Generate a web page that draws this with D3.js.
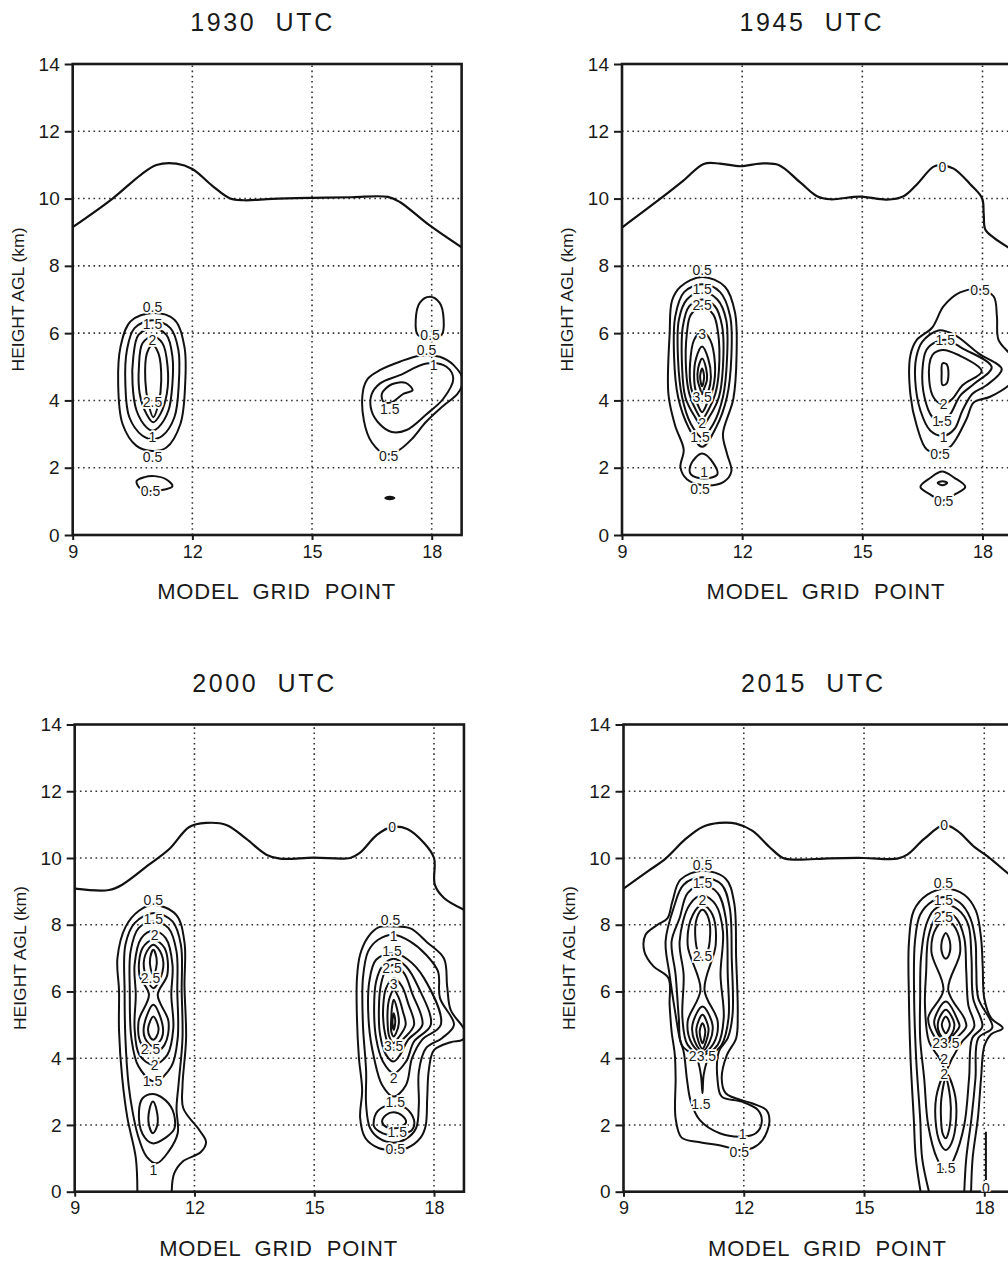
<!DOCTYPE html>
<html>
<head>
<meta charset="utf-8">
<script src="https://cdn.jsdelivr.net/npm/d3@7"></script>
<style>
  body { margin: 0; background: #fff; }
  svg { display: block; }
  text { font-family: "Liberation Sans", Arial, Helvetica, sans-serif; fill: #1a1a1a; }
</style>
</head>
<body>
<svg id="chart" width="1008" height="1264"></svg>
<script>
// axis values
const xTicks = [9, 12, 15, 18];
const yTicks = [0, 2, 4, 6, 8, 10, 12, 14];
const xMax = 18.75;
const titles = ["1930  UTC", "1945  UTC", "2000  UTC", "2015  UTC"];

// zero contour (upper boundary) per time, [grid point, km]
const zero1930 = [[9,9.15],[10,10],[10.7,10.7],[11.1,11.0],[11.6,11.04],[12,10.88],[12.5,10.38],[12.95,10.0],[13.3,9.95],[14,9.99],[15,10.02],[16,10.04],[16.9,10.05],[17.2,9.9],[17.95,9.2],[18.75,8.55]];
const zero1945 = [[9,9.14],[10.04,10.07],[10.54,10.54],[11.04,11.03],[11.45,11.04],[11.96,10.96],[12.45,11.04],[12.91,11.0],[13.45,10.48],[13.87,10.07],[14.2,9.98],[14.95,10.06],[15.61,9.97],[16.03,10.07],[16.36,10.42],[16.78,10.95],[17.0,10.98],[17.28,10.89],[17.7,10.42],[17.99,10.01],[18.03,9.54],[18.07,9.08],[18.28,8.84],[18.75,8.47]];
const zero2000 = [[9,9.08],[9.86,9.04],[10.19,9.2],[10.86,9.8],[11.37,10.27],[11.87,10.93],[12.29,11.05],[12.8,10.99],[13.3,10.57],[13.8,10.1],[14.14,9.98],[14.98,10.01],[15.9,10.0],[16.15,10.16],[16.57,10.69],[16.95,10.93],[17.33,10.87],[17.75,10.45],[18.0,10.0],[18.02,9.2],[18.25,8.8],[18.75,8.45]];
const zero2015 = [[9,9.08],[9.63,9.62],[10.05,9.98],[10.55,10.57],[10.97,10.93],[11.39,11.05],[11.81,11.03],[12.22,10.81],[12.64,10.33],[12.98,10.0],[13.31,9.95],[14.15,9.99],[14.99,10.0],[15.83,9.98],[16.08,10.1],[16.5,10.57],[17.0,10.99],[17.33,10.81],[17.75,10.33],[18.09,10.04],[18.63,9.5],[18.75,9.4]];

// contour rings
const rings1930 = [
  {v:0.5, pts:[[11.0,6.6],[11.55,6.4],[11.8,5.6],[11.82,4.5],[11.7,3.3],[11.35,2.6],[11.0,2.5],[10.6,2.65],[10.25,3.3],[10.14,4.5],[10.2,5.6],[10.45,6.35]]},
  {v:1, pts:[[11.0,6.38],[11.45,6.15],[11.65,5.5],[11.66,4.5],[11.55,3.5],[11.25,2.95],[11.0,2.85],[10.75,2.95],[10.42,3.5],[10.32,4.5],[10.36,5.5],[10.55,6.15]]},
  {v:1.5, pts:[[11.0,6.15],[11.35,5.95],[11.5,5.3],[11.5,4.5],[11.4,3.7],[11.15,3.2],[11.0,3.1],[10.85,3.2],[10.6,3.7],[10.5,4.5],[10.52,5.3],[10.65,5.95]]},
  {v:2, pts:[[11.0,5.9],[11.25,5.7],[11.38,5.0],[11.36,4.2],[11.2,3.6],[11.02,3.35],[10.85,3.6],[10.68,4.2],[10.66,5.0],[10.75,5.7]]},
  {v:2.5, pts:[[11.0,5.65],[11.15,5.4],[11.22,4.6],[11.15,3.9],[11.02,3.5],[10.9,3.9],[10.82,4.6],[10.86,5.4]]},
  {v:0.5, pts:[[10.6,1.6],[10.8,1.72],[11.05,1.75],[11.35,1.65],[11.5,1.45],[11.3,1.35],[11.0,1.3],[10.7,1.38]]},
  {v:0.5, pts:[[17.95,7.08],[18.2,6.9],[18.3,6.4],[18.25,5.95],[17.95,5.88],[17.65,5.95],[17.6,6.4],[17.7,6.9]]},
  {v:0.5, pts:[[16.28,4.3],[16.4,4.65],[16.7,4.9],[17.2,5.15],[17.7,5.33],[18.2,5.3],[18.55,5.05],[18.78,4.6],[18.65,4.2],[18.3,3.85],[17.85,3.35],[17.5,2.85],[17.15,2.5],[16.85,2.4],[16.5,2.75],[16.3,3.4]]},
  {v:1, pts:[[16.49,4.17],[16.7,4.5],[17.2,4.75],[17.87,5.1],[18.37,5.0],[18.54,4.64],[18.29,4.05],[17.87,3.59],[17.37,3.12],[17.0,3.06],[16.7,3.29],[16.49,3.7]]},
  {v:1.5, pts:[[16.75,4.2],[17.0,4.48],[17.35,4.52],[17.52,4.3],[17.3,4.2],[17.0,3.95],[16.8,3.95]]}
];
const rings1945 = [
  {v:0.5, pts:[[11.0,7.67],[11.57,7.38],[11.82,6.62],[11.86,5.34],[11.78,4.05],[11.52,3.0],[11.62,2.42],[11.73,1.89],[11.54,1.58],[11.04,1.48],[10.62,1.66],[10.46,2.01],[10.54,2.54],[10.33,3.24],[10.16,4.17],[10.19,6.0],[10.25,6.97],[10.46,7.38]]},
  {v:1, pts:[[11.0,7.45],[11.45,7.22],[11.7,6.5],[11.73,5.3],[11.62,4.1],[11.35,3.2],[11.0,2.62],[10.66,3.2],[10.4,4.1],[10.3,5.3],[10.33,6.5],[10.55,7.22]]},
  {v:1, pts:[[11.0,2.42],[11.3,2.1],[11.38,1.8],[11.05,1.68],[10.72,1.8],[10.72,2.1]]},
  {v:1.5, pts:[[11.0,7.22],[11.38,7.0],[11.6,6.4],[11.62,5.2],[11.52,4.1],[11.28,3.3],[11.0,2.9],[10.72,3.3],[10.5,4.1],[10.4,5.2],[10.42,6.4],[10.62,7.0]]},
  {v:2, pts:[[11.0,7.0],[11.32,6.8],[11.5,6.2],[11.52,5.0],[11.42,4.1],[11.2,3.55],[11.0,3.25],[10.8,3.55],[10.58,4.1],[10.5,5.0],[10.52,6.2],[10.68,6.8]]},
  {v:2.5, pts:[[11.0,6.8],[11.28,6.55],[11.4,6.0],[11.42,4.9],[11.33,4.2],[11.15,3.7],[11.0,3.45],[10.85,3.7],[10.68,4.2],[10.6,4.9],[10.62,6.0],[10.72,6.55]]},
  {v:3, pts:[[11.0,6.05],[11.2,5.8],[11.32,5.1],[11.28,4.4],[11.12,3.9],[11.0,3.65],[10.88,3.9],[10.72,4.4],[10.7,5.1],[10.8,5.8]]},
  {v:3.5, pts:[[11.0,5.6],[11.15,5.25],[11.22,4.7],[11.15,4.25],[11.0,3.92],[10.85,4.25],[10.8,4.7],[10.85,5.25]]},
  {v:4, pts:[[11.0,5.25],[11.1,4.95],[11.12,4.6],[11.05,4.35],[11.0,4.18],[10.95,4.35],[10.89,4.6],[10.9,4.95]]},
  {v:4.5, pts:[[11.0,4.95],[11.05,4.7],[11.0,4.42],[10.95,4.7]]},
  {v:0.5, pts:[[16.74,6.16],[17.03,6.8],[17.44,7.21],[17.94,7.3],[18.28,7.09],[18.36,6.5],[18.4,5.8],[18.7,5.35],[18.9,4.9],[18.7,4.5],[18.19,4.11],[17.78,3.94],[17.61,3.47],[17.36,2.89],[17.19,2.62],[16.94,2.45],[16.61,2.54],[16.36,3.24],[16.2,4.17],[16.2,5.34],[16.36,5.8]]},
  {v:1, pts:[[16.5,5.75],[16.9,6.08],[17.3,5.95],[17.9,5.4],[18.48,4.93],[18.1,4.45],[17.75,4.2],[17.5,3.7],[17.3,3.15],[17.03,2.95],[16.7,3.1],[16.45,3.7],[16.32,4.6],[16.35,5.3]]},
  {v:1.5, pts:[[16.6,5.5],[16.85,5.75],[17.1,5.8],[17.5,5.55],[18.23,4.99],[17.8,4.5],[17.45,4.15],[17.2,3.6],[16.99,3.35],[16.75,3.5],[16.55,4.1],[16.5,4.9]]},
  {v:2, pts:[[16.75,5.35],[17.0,5.5],[17.4,5.35],[17.98,4.87],[17.5,4.45],[17.25,4.05],[17.03,3.88],[16.8,4.05],[16.67,4.6]]},
  {v:2.5, pts:[[17.0,5.1],[17.1,5.08],[17.15,4.8],[17.1,4.5],[17.0,4.46],[16.98,4.8]]},
  {v:0.5, pts:[[16.99,1.89],[17.3,1.7],[17.57,1.43],[17.3,1.2],[16.99,1.02],[16.7,1.2],[16.45,1.43],[16.7,1.7]]},
  {v:1, pts:[[17.0,1.6],[17.12,1.55],[17.0,1.48],[16.88,1.55]]}
];
const rings2000 = [
  {v:0.5, open:true, pts:[[10.57,0],[10.53,1.02],[10.32,2.21],[10.19,3.41],[10.11,4.84],[10.11,6.03],[10.07,6.99],[10.28,7.95],[10.61,8.42],[10.97,8.6],[11.54,8.3],[11.75,7.47],[11.75,6.15],[11.79,4.6],[11.7,3.17],[11.72,2.5],[12.12,1.85],[12.29,1.49],[12.16,1.19],[11.7,0.9],[11.49,0.54],[11.43,0]]},
  {v:1, pts:[[10.99,8.35],[11.45,8.1],[11.66,7.4],[11.68,6.0],[11.7,4.6],[11.6,3.2],[11.55,2.5],[11.58,1.75],[11.35,1.2],[11.05,0.85],[10.8,1.05],[10.58,1.7],[10.45,2.4],[10.35,3.2],[10.27,4.6],[10.25,6.0],[10.27,7.4],[10.5,8.05]]},
  {v:1.5, pts:[[10.97,8.1],[11.35,7.9],[11.55,7.2],[11.57,6.0],[11.58,4.6],[11.42,3.75],[11.0,3.3],[10.6,3.75],[10.42,4.6],[10.38,6.0],[10.4,7.2],[10.6,7.9]]},
  {v:1.5, pts:[[10.95,2.93],[11.2,2.81],[11.45,2.45],[11.5,1.9],[11.28,1.62],[10.95,1.45],[10.7,1.73],[10.61,2.4],[10.7,2.8]]},
  {v:2, pts:[[10.97,7.82],[11.28,7.6],[11.45,6.8],[11.42,5.9],[11.47,4.9],[11.32,4.1],[10.97,3.8],[10.62,4.1],[10.5,4.9],[10.53,5.9],[10.5,6.8],[10.67,7.6]]},
  {v:2, pts:[[10.96,2.7],[11.05,2.45],[11.07,2.0],[10.96,1.75],[10.86,2.0],[10.87,2.45]]},
  {v:2.5, pts:[[10.97,7.55],[11.25,7.3],[11.32,6.5],[11.08,5.9],[11.35,5.1],[11.25,4.4],[10.97,4.15],[10.68,4.4],[10.6,5.1],[10.86,5.9],[10.62,6.5],[10.7,7.3]]},
  {v:3, pts:[[10.97,7.4],[11.18,7.1],[11.2,6.6],[10.97,6.1],[10.75,6.6],[10.77,7.1]]},
  {v:3, pts:[[10.97,5.6],[11.2,5.0],[11.18,4.6],[10.97,4.35],[10.76,4.6],[10.74,5.0]]},
  {v:3.5, pts:[[10.97,7.25],[11.05,7.0],[11.04,6.7],[10.97,6.5],[10.9,6.7],[10.89,7.0]]},
  {v:3.5, pts:[[10.97,5.25],[11.1,4.9],[11.05,4.65],[10.97,4.55],[10.88,4.65],[10.84,4.9]]},
  {v:0.5, pts:[[16.99,7.95],[17.41,7.89],[17.83,7.47],[18.25,6.99],[18.33,6.15],[18.42,5.44],[18.71,4.96],[18.8,4.75],[18.71,4.55],[18.42,4.48],[18.0,4.24],[17.87,3.64],[17.83,2.81],[17.79,1.97],[17.66,1.61],[17.33,1.31],[16.99,1.25],[16.61,1.31],[16.28,1.61],[16.15,2.21],[16.2,3.05],[16.12,4.0],[16.07,5.2],[16.07,6.39],[16.15,7.11],[16.36,7.65],[16.61,7.92]]},
  {v:1, pts:[[16.99,7.7],[17.4,7.5],[17.8,7.1],[18.1,6.6],[18.15,5.8],[18.5,5.0],[18.2,4.6],[17.8,4.3],[17.62,3.6],[17.62,2.6],[17.55,1.9],[17.3,1.58],[16.99,1.47],[16.65,1.58],[16.4,1.9],[16.3,2.6],[16.3,3.6],[16.22,5.0],[16.22,6.4],[16.35,7.2],[16.6,7.55]]},
  {v:1.5, pts:[[16.99,7.15],[17.35,6.95],[17.75,6.4],[18.17,5.0],[17.7,4.55],[17.45,4.0],[17.3,3.2],[16.99,2.85],[16.7,3.2],[16.5,4.0],[16.37,5.0],[16.38,6.3],[16.55,6.95]]},
  {v:1.5, pts:[[16.99,2.6],[17.3,2.5],[17.5,2.15],[17.45,1.85],[17.2,1.72],[16.99,1.68],[16.72,1.75],[16.5,1.95],[16.55,2.35],[16.75,2.55]]},
  {v:2, pts:[[16.99,2.38],[17.2,2.28],[17.3,2.08],[17.15,1.93],[16.99,1.9],[16.8,1.94],[16.7,2.1],[16.8,2.3]]},
  {v:2, pts:[[16.99,6.98],[17.3,6.75],[17.6,6.15],[17.92,5.0],[17.5,4.5],[17.3,3.9],[16.99,3.55],[16.72,3.9],[16.55,4.6],[16.5,5.5],[16.55,6.3],[16.72,6.78]]},
  {v:2.5, pts:[[16.99,6.8],[17.25,6.55],[17.45,5.95],[17.71,5.0],[17.35,4.55],[17.15,4.1],[16.99,3.9],[16.8,4.1],[16.65,4.7],[16.62,5.5],[16.67,6.2],[16.78,6.6]]},
  {v:3, pts:[[16.99,6.4],[17.2,6.15],[17.35,5.65],[17.5,5.0],[17.25,4.6],[16.99,4.3],[16.85,4.45],[16.75,4.9],[16.73,5.6],[16.8,6.1]]},
  {v:3.5, pts:[[16.99,6.05],[17.12,5.8],[17.22,5.4],[17.29,5.0],[17.1,4.6],[16.99,4.45],[16.88,4.65],[16.84,5.0],[16.85,5.6],[16.9,5.85]]},
  {v:4, pts:[[16.99,5.75],[17.07,5.5],[17.12,5.05],[17.05,4.75],[16.99,4.65],[16.93,4.8],[16.93,5.2],[16.95,5.55]]},
  {v:4.5, pts:[[16.99,5.35],[17.03,5.1],[16.99,4.85],[16.96,5.1]]}
];
const rings2015 = [
  {v:0.5, pts:[[10.97,9.62],[11.55,9.38],[11.76,8.66],[11.81,7.0],[11.85,5.32],[11.81,4.6],[11.58,4.1],[11.45,3.4],[11.55,2.95],[12.2,2.65],[12.56,2.45],[12.64,2.09],[12.47,1.55],[12.22,1.31],[11.9,1.25],[11.47,1.37],[10.88,1.49],[10.45,1.62],[10.3,2.2],[10.3,3.4],[10.28,4.1],[10.2,4.8],[10.15,5.6],[10.12,6.4],[9.75,6.75],[9.52,7.2],[9.55,7.7],[9.85,8.0],[10.1,8.2],[10.22,8.7],[10.42,9.35]]},
  {v:1, pts:[[10.97,9.42],[11.45,9.2],[11.65,8.5],[11.7,7.0],[11.72,5.3],[11.6,4.6],[11.38,4.2],[11.35,3.3],[11.45,2.85],[11.95,2.7],[12.35,2.45],[12.45,2.1],[12.3,1.75],[11.97,1.65],[11.4,1.75],[10.9,2.15],[10.68,2.7],[10.59,3.3],[10.5,4.2],[10.4,4.6],[10.3,5.3],[10.15,6.5],[10.05,7.5],[10.25,8.5],[10.5,9.2]]},
  {v:1.5, pts:[[10.97,9.2],[11.35,8.95],[11.55,8.2],[11.6,6.5],[11.62,5.2],[11.45,4.4],[11.12,4.0],[11.0,3.5],[10.97,2.95],[10.93,3.5],[10.82,4.0],[10.45,4.4],[10.38,5.2],[10.3,6.5],[10.2,7.5],[10.4,8.2],[10.6,8.95]]},
  {v:2, pts:[[10.97,8.88],[11.3,8.6],[11.48,7.8],[11.42,6.5],[11.5,5.2],[11.35,4.4],[10.97,4.1],[10.6,4.4],[10.47,5.2],[10.5,6.5],[10.4,7.5],[10.65,8.6]]},
  {v:2.5, pts:[[10.97,8.6],[11.22,8.3],[11.3,7.4],[11.02,6.05],[11.35,5.1],[11.25,4.45],[10.97,4.15],[10.7,4.45],[10.6,5.1],[10.92,6.05],[10.6,7.4],[10.73,8.3]]},
  {v:3, pts:[[10.97,8.45],[11.12,8.2],[11.15,7.5],[11.05,7.05],[10.97,6.95],[10.9,7.05],[10.8,7.5],[10.83,8.2]]},
  {v:3, pts:[[10.97,5.55],[11.22,5.0],[11.15,4.5],[10.97,4.22],[10.78,4.5],[10.72,5.0]]},
  {v:3.5, pts:[[10.97,5.3],[11.12,4.9],[11.06,4.5],[10.97,4.28],[10.87,4.5],[10.82,4.9]]},
  {v:4, pts:[[10.97,5.05],[11.04,4.8],[10.97,4.45],[10.9,4.8]]},
  {v:0.5, open:true, pts:[[16.41,0],[16.29,1.02],[16.24,2.21],[16.16,4.0],[16.12,5.79],[16.12,7.47],[16.24,8.42],[16.58,8.9],[17.04,9.08],[17.5,8.9],[17.79,8.42],[17.92,7.59],[17.96,6.75],[18.0,5.79],[18.17,5.2],[18.46,4.9],[18.17,4.72],[18.0,4.36],[17.92,3.41],[17.84,2.21],[17.71,1.02],[17.67,0]]},
  {v:1, open:true, pts:[[16.62,0],[16.45,1.0],[16.4,2.2],[16.3,4.0],[16.25,5.8],[16.27,7.5],[16.4,8.3],[16.7,8.7],[17.04,8.83],[17.4,8.65],[17.65,8.2],[17.78,7.5],[17.8,6.7],[17.85,5.8],[18.2,4.92],[17.85,4.6],[17.78,3.4],[17.68,2.2],[17.55,1.0],[17.5,0]]},
  {v:1.5, pts:[[17.04,8.6],[17.35,8.45],[17.6,8.0],[17.68,7.0],[17.72,5.8],[17.95,4.95],[17.7,4.6],[17.62,3.4],[17.5,2.0],[17.25,1.0],[17.04,0.6],[16.82,1.0],[16.6,2.0],[16.5,3.4],[16.4,4.6],[16.4,5.8],[16.42,7.0],[16.55,8.0],[16.75,8.45]]},
  {v:2, pts:[[17.04,8.4],[17.3,8.2],[17.5,7.6],[17.55,6.6],[17.6,5.6],[17.75,4.95],[17.45,4.5],[17.2,4.0],[17.04,3.65],[16.88,4.0],[16.62,4.5],[16.52,5.6],[16.55,6.6],[16.6,7.6],[16.78,8.2]]},
  {v:2, pts:[[17.04,3.55],[17.25,3.0],[17.3,2.2],[17.18,1.45],[17.04,1.25],[16.9,1.45],[16.78,2.2],[16.83,3.0]]},
  {v:2.5, pts:[[17.04,8.15],[17.28,7.9],[17.4,7.2],[17.1,6.05],[17.5,5.2],[17.55,4.95],[17.3,4.6],[17.04,4.3],[16.78,4.6],[16.6,5.2],[16.98,6.05],[16.68,7.2],[16.8,7.9]]},
  {v:2.5, pts:[[17.04,3.4],[17.15,2.8],[17.16,2.2],[17.1,1.75],[17.04,1.6],[16.96,1.75],[16.92,2.2],[16.93,2.8]]},
  {v:3, pts:[[17.04,7.75],[17.14,7.5],[17.12,7.1],[17.04,6.98],[16.96,7.1],[16.94,7.5]]},
  {v:3, pts:[[17.04,5.7],[17.35,5.1],[17.38,4.95],[17.2,4.65],[17.04,4.4],[16.88,4.65],[16.75,5.1]]},
  {v:3.5, pts:[[17.04,5.45],[17.25,5.05],[17.2,4.75],[17.04,4.55],[16.88,4.75],[16.85,5.1]]},
  {v:4, pts:[[17.04,5.25],[17.14,5.0],[17.04,4.75],[16.94,5.0]]},
  {v:0, open:true, pts:[[18.04,1.8],[18.04,0.35]]}
];

// contour labels [text, grid point, km]
const labels1930 = [["0.5",11.0,6.78],["1.5",11.0,6.27],["2",11.0,5.8],["2.5",11.0,3.95],["1",11.0,2.9],["0.5",11.0,2.32],["0.5",10.95,1.3],["0.5",17.96,5.96],["0.5",17.87,5.5],["1",18.05,5.06],["1.5",16.95,3.75],["0.5",16.92,2.36]];
const labels1945 = [["0",17.0,10.95],["0.5",11.0,7.87],["1.5",11.0,7.32],["2.5",11.0,6.84],["3",11.0,5.98],["3.5",11.0,4.11],["2",11.0,3.34],["1.5",10.95,2.9],["1",11.05,1.88],["0.5",10.95,1.36],["0.5",17.94,7.27],["1.5",17.07,5.8],["2",17.03,3.9],["1.5",16.99,3.4],["1",17.03,2.92],["0.5",16.94,2.42],["0.5",17.03,1.02]];
const labels2000 = [["0",16.95,10.93],["0.5",10.97,8.75],["1.5",10.97,8.18],["2",11.0,7.7],["2.5",10.9,6.39],["2.5",10.9,4.28],["2",11.0,3.8],["1.5",10.95,3.32],["1",10.97,0.66],["0.5",16.91,8.14],["1",16.99,7.66],["1.5",16.95,7.2],["2.5",16.95,6.7],["3",16.99,6.23],["3.5",16.99,4.36],["2",16.99,3.42],["1.5",17.03,2.69],["1.5",17.08,1.78],["0.5",17.03,1.28]];
const labels2015 = [["0",17.0,10.99],["0.5",10.97,9.78],["1.5",10.97,9.25],["2",10.97,8.75],["2.5",10.97,7.05],["23.5",10.97,4.06],["1.5",10.93,2.63],["1",11.97,1.72],["0.5",11.89,1.2],["0.5",16.98,9.25],["1.5",16.98,8.74],["2.5",16.98,8.22],["23.5",17.04,4.45],["2",17.0,3.98],["2",17.0,3.52],["1.5",17.04,0.72],["0",18.04,0.12]];

// tiny closed blob at 1930
const dots1930 = [[16.95, 1.1]];

const svg = d3.select("#chart");

// pixel box of each panel: x at 9 and 18, y at 0 and 14
const boxes = [
  { x9: 72.7, x18: 431.7, y0: 535, y14: 64 },
  { x9: 622, x18: 982.5, y0: 535, y14: 64 },
  { x9: 74.7, x18: 434, y0: 1191.7, y14: 724.5 },
  { x9: 623.5, x18: 984.3, y0: 1191.7, y14: 724.5 }
];

const panels = [
  { zero: zero1930, rings: rings1930, labels: labels1930, dots: dots1930 },
  { zero: zero1945, rings: rings1945, labels: labels1945, dots: [] },
  { zero: zero2000, rings: rings2000, labels: labels2000, dots: [] },
  { zero: zero2015, rings: rings2015, labels: labels2015, dots: [] }
];

panels.forEach((p, i) => {
  const b = boxes[i];
  const x = d3.scaleLinear().domain([9, 18]).range([b.x9, b.x18]);
  const y = d3.scaleLinear().domain([0, 14]).range([b.y0, b.y14]);
  const g = svg.append("g");

  // dotted grid
  g.append("g").selectAll("line")
    .data(xTicks.filter(d => d > 9))
    .enter().append("line")
    .attr("x1", d => x(d)).attr("x2", d => x(d))
    .attr("y1", y(0)).attr("y2", y(14))
    .attr("stroke", "#333").attr("stroke-width", 1.6)
    .attr("stroke-dasharray", "1.6,3.6");
  g.append("g").selectAll("line")
    .data(yTicks.filter(d => d > 0 && d < 14))
    .enter().append("line")
    .attr("x1", x(9)).attr("x2", x(xMax))
    .attr("y1", d => y(d)).attr("y2", d => y(d))
    .attr("stroke", "#333").attr("stroke-width", 1.6)
    .attr("stroke-dasharray", "1.6,3.6");

  // axes
  const ya = g.append("g")
    .attr("transform", `translate(${x(9)},0)`)
    .call(d3.axisLeft(y).tickValues(yTicks).tickSize(8).tickSizeOuter(0).tickPadding(5));
  const xa = g.append("g")
    .attr("transform", `translate(0,${y(0)})`)
    .call(d3.axisBottom(x).tickValues(xTicks).tickSize(5).tickSizeOuter(0).tickPadding(5));
  ya.select(".domain").remove();
  xa.select(".domain").remove();
  ya.selectAll("line").attr("stroke", "#1a1a1a").attr("stroke-width", 2);
  xa.selectAll("line").attr("stroke", "#1a1a1a").attr("stroke-width", 2);
  ya.selectAll("text").style("font-size", "19px").style("font-family", "Liberation Sans, Arial, sans-serif").attr("fill", "#1a1a1a");
  xa.selectAll("text").style("font-size", "18px").style("font-family", "Liberation Sans, Arial, sans-serif").attr("fill", "#1a1a1a");

  // frame
  g.append("rect")
    .attr("x", x(9)).attr("y", y(14))
    .attr("width", x(xMax) - x(9)).attr("height", y(0) - y(14))
    .attr("fill", "none").attr("stroke", "#1a1a1a").attr("stroke-width", 2.6);

  // clip for contours
  const clipId = "clip" + i;
  g.append("clipPath").attr("id", clipId)
    .append("rect")
    .attr("x", x(9)).attr("y", y(14))
    .attr("width", x(xMax) - x(9)).attr("height", y(0) - y(14));

  const cg = g.append("g").attr("clip-path", `url(#${clipId})`);

  const openLine = d3.line().x(d => x(d[0])).y(d => y(d[1])).curve(d3.curveCatmullRom.alpha(0.5));
  const closedLine = d3.line().x(d => x(d[0])).y(d => y(d[1])).curve(d3.curveCatmullRomClosed.alpha(0.5));

  cg.append("path")
    .attr("d", openLine(p.zero))
    .attr("fill", "none").attr("stroke", "#111").attr("stroke-width", 2.2);

  cg.selectAll(".ring")
    .data(p.rings)
    .enter().append("path")
    .attr("class", "ring")
    .attr("d", d => d.open ? openLine(d.pts) : closedLine(d.pts))
    .attr("fill", "none").attr("stroke", "#111").attr("stroke-width", 2)
    .attr("stroke-linejoin", "round");

  cg.selectAll(".dot")
    .data(p.dots)
    .enter().append("ellipse")
    .attr("cx", d => x(d[0])).attr("cy", d => y(d[1]))
    .attr("rx", 5.5).attr("ry", 2.2).attr("fill", "#111");

  // contour labels with white halo
  cg.selectAll(".clab")
    .data(p.labels)
    .enter().append("text")
    .attr("class", "clab")
    .attr("x", d => x(d[1])).attr("y", d => y(d[2]))
    .attr("dy", "0.36em")
    .attr("text-anchor", "middle")
    .style("font-size", "14px")
    .style("paint-order", "stroke")
    .attr("stroke", "#fff").attr("stroke-width", 3.5)
    .text(d => d[0]);

  // titles
  g.append("text")
    .attr("x", x(9) + 188.5).attr("y", y(14) - 33)
    .attr("text-anchor", "middle")
    .attr("textLength", 142)
    .attr("lengthAdjust", "spacing")
    .style("font-size", "25px")
    .style("white-space", "pre")
    .text(titles[i]);

  g.append("text")
    .attr("x", x(9) + 203.5).attr("y", y(0) + 64)
    .attr("text-anchor", "middle")
    .attr("textLength", 238)
    .attr("lengthAdjust", "spacing")
    .style("font-size", "22px")
    .style("white-space", "pre")
    .text("MODEL  GRID  POINT");

  const yMid = (y(0) + y(14)) / 2;
  g.append("text")
    .attr("transform", `translate(${x(9) - 49},${yMid}) rotate(-90)`)
    .attr("text-anchor", "middle")
    .attr("textLength", 144)
    .attr("lengthAdjust", "spacingAndGlyphs")
    .style("font-size", "16px")
    .text("HEIGHT AGL (km)");
});
</script>
</body>
</html>
